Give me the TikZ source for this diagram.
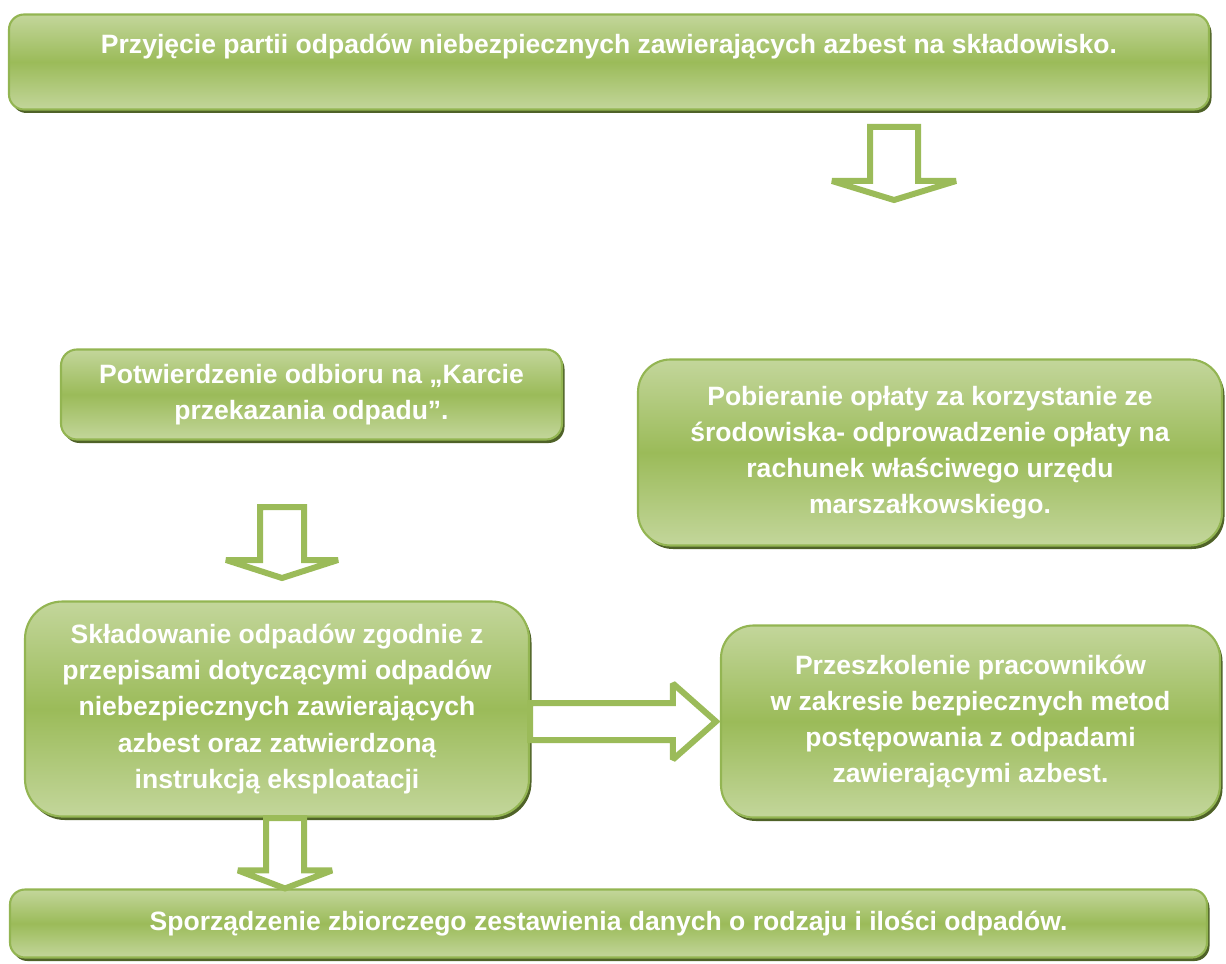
\documentclass[tikz,border=0pt]{standalone}
\usepackage{fontspec}
\setmainfont{Liberation Sans}
\usepackage{tikz}
\usetikzlibrary{calc,shadows}

\definecolor{lightgreen}{HTML}{C3D69B}
\definecolor{midgreen}{HTML}{9BBB59}
\definecolor{edgegreen}{HTML}{93B552}
\definecolor{shadowgreen}{HTML}{4F6228}

\tikzset{
	box/.style={rectangle, draw=edgegreen, line width=1.2pt, top color=lightgreen, bottom color=lightgreen, middle color=midgreen,
		drop shadow={shadow xshift=0.05cm, shadow yshift=-0.07cm, fill=shadowgreen, opacity=1},
		text=white, font=\fontsize{15.1}{20.5}\selectfont\bfseries, align=center, inner sep=0pt},
	hollow/.style={draw=midgreen, line width=0.12cm, fill=white, line join=miter, miter limit=2}
}

% hollow arrow downwards: start, tip, shaft half width, head half width, head length
\newcommand{\hollowdown}[5]{
	\draw[hollow] ($(#1)+(-#3,0)$) -- ($(#2)+(-#3,#5)$) -- ($(#2)+(-#4,#5)$) -- (#2) -- ($(#2)+(#4,#5)$) -- ($(#2)+(#3,#5)$) -- ($(#1)+(#3,0)$) -- cycle;
}
% hollow arrow to the right
\newcommand{\hollowright}[5]{
	\draw[hollow] ($(#1)+(0,#3)$) -- ($(#2)+(-#5,#3)$) -- ($(#2)+(-#5,#4)$) -- (#2) -- ($(#2)+(-#5,-#4)$) -- ($(#2)+(-#5,-#3)$) -- ($(#1)+(0,-#3)$) -- cycle;
}

\begin{document}
\begin{tikzpicture}
		\useasboundingbox (0,0) rectangle (24.52,-19.26);
		% Boxes:
		\node[box, minimum width=24.0cm, minimum height=1.9cm, rounded corners=0.3cm](przyjecie) at (12.18,-1.24){};
		\node[text=white, font=\fontsize{15.1}{20.5}\selectfont\bfseries](przyjecietxt) at ([yshift=0.3cm]przyjecie.center){Przyjęcie partii odpadów niebezpiecznych zawierających azbest na składowisko.};
		\node[box, minimum width=10.02cm, minimum height=1.8cm, rounded corners=0.32cm](potw) at (6.23,-7.89){Potwierdzenie odbioru na „Karcie\\przekazania odpadu”.};
		\node[box, minimum width=11.68cm, minimum height=3.72cm, rounded corners=0.65cm](oplata) at (18.60,-9.05){Pobieranie opłaty za korzystanie ze\\środowiska- odprowadzenie opłaty na\\rachunek właściwego urzędu\\marszałkowskiego.};
		\node[box, minimum width=10.08cm, minimum height=4.3cm, rounded corners=0.75cm](skladowanie) at (5.54,-14.18){Składowanie odpadów zgodnie z\\przepisami dotyczącymi odpadów\\niebezpiecznych zawierających\\azbest oraz zatwierdzoną\\instrukcją eksploatacji};
		\node[box, minimum width=9.98cm, minimum height=3.84cm, rounded corners=0.65cm](szkolenie) at (19.41,-14.43){Przeszkolenie pracowników\\w zakresie bezpiecznych metod\\postępowania z odpadami\\zawierającymi azbest.};
		\node[box, minimum width=23.94cm, minimum height=1.36cm, rounded corners=0.3cm](zestawienie) at (12.17,-18.47){Sporządzenie zbiorczego zestawienia danych o rodzaju i ilości odpadów.};
		% Arrow ends:
		\coordinate (a1s) at (17.88,-2.54);
		\coordinate (a1t) at (17.88,-4.0);
		\coordinate (a2s) at (5.64,-10.14);
		\coordinate (a2t) at (5.64,-11.56);
		\coordinate (a3s) at (skladowanie.east |- szkolenie.west);
		\coordinate (a3t) at ([xshift=-0.08cm]szkolenie.west);
		\coordinate (a4s) at (5.70,-16.36);
		\coordinate (a4t) at (a4s |- zestawienie.north);
		% Arrows:
		\hollowdown{a1s}{a1t}{0.48}{1.24}{0.38}
		\hollowdown{a2s}{a2t}{0.44}{1.12}{0.36}
		\hollowright{a3s}{a3t}{0.37}{0.76}{0.86}
		\hollowdown{a4s}{a4t}{0.38}{0.94}{0.36}
	\end{tikzpicture}
\end{document}
